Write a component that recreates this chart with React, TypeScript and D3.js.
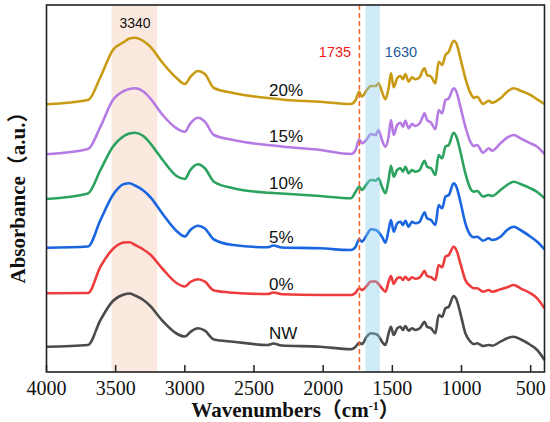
import React from "react";
import * as d3 from "d3";

// wavenumber grid (cm-1) shared by all spectra
const wavenumbers = [
  4000, 3700, 3610, 3520, 3440, 3400, 3360, 3300, 3250, 3160,
  3060, 3000, 2960, 2905, 2855, 2790, 2650, 2400, 2360, 2300,
  2020, 1800, 1765, 1740, 1720, 1685, 1655, 1620, 1600, 1575,
  1550, 1527, 1510, 1490, 1465, 1442, 1423, 1406, 1382, 1358,
  1334, 1302, 1285, 1268, 1249, 1220, 1189, 1165, 1140, 1116,
  1092, 1057, 1037, 1008, 972, 936, 912, 887, 844, 803,
  779, 718, 670, 622, 574, 501, 453, 400,
];

// absorbance (a.u., stacked with offsets as plotted)
const nw = [
  25.3, 27, 52, 71, 77.5, 78.5, 76.5, 72, 66, 51,
  38.5, 35.5, 40, 43.7, 41.3, 32.5, 30.3, 27, 28.5, 26.5,
  25.3, 22.7, 25.3, 29.3, 28, 35.3, 38.7, 38, 36, 30.3,
  27, 38.7, 45.3, 37, 43.7, 45.3, 42, 46, 41.3, 43.7,
  42, 43.7, 47, 50.3, 45.3, 43.7, 38.7, 57, 55.3, 63.7,
  65.3, 76, 72.7, 58.7, 38.7, 30.3, 28, 28.7, 26, 27,
  26.3, 30.3, 33.7, 35.3, 32.7, 27, 22, 12,
];
const p0 = [
  78.7, 79, 105.3, 123, 129.5, 129.7, 127, 122.5, 117.5, 103,
  89, 85.5, 90, 92.7, 90.3, 81.5, 79.3, 78, 79.5, 77.8,
  77, 77, 79.3, 83.7, 82, 86, 90.5, 90.5, 88, 83.7,
  80.3, 90.3, 96, 88, 93.7, 94.7, 92, 95.3, 92, 94.7,
  93.3, 94.7, 97.7, 101.3, 96, 94.7, 92, 107, 104.7, 115.3,
  117, 125.3, 122, 108.7, 92, 86, 83.7, 83.7, 80.3, 82,
  80.3, 82.7, 84.7, 87, 83.7, 78.7, 73.7, 63.7,
];
const p5 = [
  124.3, 125.5, 152, 177, 188, 188.7, 186.5, 181.5, 175, 158,
  141, 135.5, 142, 146.3, 143.5, 132.5, 127, 124.7, 126.5, 124.5,
  123.7, 122, 125.3, 132.7, 130.3, 137, 142.7, 142, 140, 135.3,
  129.3, 142, 152, 140.3, 148.7, 150.3, 147, 151.3, 145.3, 150.3,
  148.7, 150.3, 155.3, 159.7, 153.7, 152, 147, 167, 163.7, 175.3,
  177, 188.7, 185.3, 170.3, 148.7, 137, 134.7, 135.3, 131.3, 133.7,
  132, 135.3, 142, 145.3, 142, 135.3, 130.3, 122.7,
];
const p10 = [
  173, 178.5, 202, 225.3, 236, 238.5, 239.3, 236, 228.7, 212,
  196, 193, 202, 207.7, 203.7, 190.3, 183.7, 179.3, 179, 178.5,
  176, 173.7, 180.3, 185.3, 182, 188, 192, 191.3, 193.7, 185.3,
  178.7, 192, 206.3, 195.3, 202, 203.7, 200.3, 205.3, 198.7, 202,
  200.3, 202, 207, 211.3, 205.3, 203.7, 197, 217, 213.7, 225.3,
  227, 239.3, 235.3, 220.3, 198.7, 183.7, 180.3, 181, 175.5, 177,
  176, 182, 187, 190.3, 188, 183.7, 180, 173.7,
];
const p15 = [
  217.7, 223, 245.3, 272, 281, 283, 283.7, 280.5, 273.7, 257,
  243.7, 240.3, 248.7, 254.3, 250.3, 237, 232, 227, 226.5, 225.5,
  222, 218, 222, 232.7, 228.7, 232.7, 238, 237, 242, 232,
  225.3, 235.3, 252, 237, 247, 249.3, 245.3, 251.3, 243.7, 248,
  246, 248.7, 253.7, 258.7, 252, 249.3, 242.7, 262, 258.7, 272,
  273.7, 283.7, 280.3, 265.3, 245.3, 230.3, 226, 227, 219.3, 223.7,
  221.3, 228.7, 234.3, 237, 233.7, 228.7, 225.3, 218,
];
const p20 = [
  267.7, 272, 295, 322, 330, 333.5, 334.3, 331, 325.3, 309,
  294, 288, 295, 301, 298, 284, 279, 274, 273.5, 272.5,
  270.3, 268, 272, 280.3, 275.3, 282, 286, 286, 288.7, 280.3,
  272.7, 283.7, 298.7, 284.7, 293.7, 296, 292.7, 298, 290.3, 294.7,
  292.7, 294.7, 300.3, 303.7, 297, 295.3, 288.7, 310.3, 307, 317,
  320.3, 331.3, 328.7, 313.7, 293.7, 279.3, 274.3, 275.3, 268, 271.3,
  269.3, 273.7, 280.3, 283.7, 281.3, 277, 272.7, 268,
];

const seriesNames = ["NW", "0%", "5%", "10%", "15%", "20%"];
const seriesValues = [nw, p0, p5, p10, p15, p20];
const seriesColors = ["#4b4b4b", "#ee3b3b", "#1a66e0", "#2ca25f", "#b57ae3", "#c99a14"];
// label baseline positions in absorbance units
const labelLevels = [33, 82, 129, 183, 230, 276];

const xTicks = [4000, 3500, 3000, 2500, 2000, 1500, 1000, 500];
const ohBand = [3530, 3200];
const amideBand = [1695, 1590];
const esterLine = 1738;

const W = 550;
const H = 422;
const margin = { left: 46.5, right: 5.5, top: 5, bottom: 50 };

const App: React.FC = () => {
  const x = d3.scaleLinear().domain([4000, 400]).range([margin.left, W - margin.right]);
  const y = d3.scaleLinear().domain([0, 367]).range([H - margin.bottom, margin.top]);
  const top = margin.top;
  const bottom = H - margin.bottom;

  const line = d3
    .line<number>()
    .x((_, i) => x(wavenumbers[i]))
    .y(d => y(d))
    .curve(d3.curveMonotoneX);

  const serif = "'Liberation Serif', 'Times New Roman', 'Noto Sans CJK SC', serif";
  const sans = "'Liberation Sans', Arial, sans-serif";

  return (
    <svg
      width={W}
      height={H}
      style={{ position: "absolute", left: 0, top: 0, background: "#fff" }}
    >
      <rect
        x={x(ohBand[0])}
        y={top}
        width={x(ohBand[1]) - x(ohBand[0])}
        height={bottom - top}
        fill="#fbe9e0"
      />

      {seriesValues.map((vals, i) => (
        <path
          key={seriesNames[i]}
          d={line(vals) || ""}
          fill="none"
          stroke={seriesColors[i]}
          strokeWidth={2.6}
          strokeLinejoin="round"
        />
      ))}

      <rect
        x={x(amideBand[0])}
        y={top}
        width={x(amideBand[1]) - x(amideBand[0])}
        height={bottom - top}
        fill="#87ceeb"
        fillOpacity={0.4}
      />
      <line
        x1={x(esterLine)}
        x2={x(esterLine)}
        y1={top}
        y2={bottom}
        stroke="#f26a30"
        strokeWidth={1.6}
        strokeDasharray="5,3"
      />

      {seriesNames.map((name, i) => (
        <text
          key={name}
          x={269}
          y={y(labelLevels[i])}
          fontFamily={sans}
          fontSize={17}
          fill="#111"
        >
          {name}
        </text>
      ))}

      <text x={x(3360)} y={28} textAnchor="middle" fontFamily={sans} fontSize={14} fill="#111">
        3340
      </text>
      <text x={335} y={57} textAnchor="middle" fontFamily={sans} fontSize={14.5} fill="#f01818">
        1735
      </text>
      <text x={401} y={57} textAnchor="middle" fontFamily={sans} fontSize={14.5} fill="#1f5a9e">
        1630
      </text>

      <rect
        x={margin.left}
        y={top}
        width={W - margin.right - margin.left}
        height={bottom - top}
        fill="none"
        stroke="#222"
        strokeWidth={1.6}
      />
      {xTicks.map(t => (
        <g key={t}>
          <line x1={x(t)} x2={x(t)} y1={bottom} y2={bottom - 7} stroke="#222" strokeWidth={1.5} />
          <text x={x(t)} y={395} textAnchor="middle" fontFamily={serif} fontSize={20} fill="#111">
            {t}
          </text>
        </g>
      ))}

      <text
        x={(margin.left + W - margin.right) / 2}
        y={417}
        textAnchor="middle"
        fontFamily={serif}
        fontSize={21}
        fontWeight="bold"
        fill="#111"
      >
        Wavenumbers（cm
        <tspan dy={-7} fontSize={12}>
          -1
        </tspan>
        <tspan dy={7}>）</tspan>
      </text>
      <text
        transform={`translate(25, ${(top + bottom) / 2 + 4}) rotate(-90)`}
        textAnchor="middle"
        fontFamily={serif}
        fontSize={21}
        fontWeight="bold"
        fill="#111"
      >
        Absorbance（a.u.）
      </text>
    </svg>
  );
};

export default App;
